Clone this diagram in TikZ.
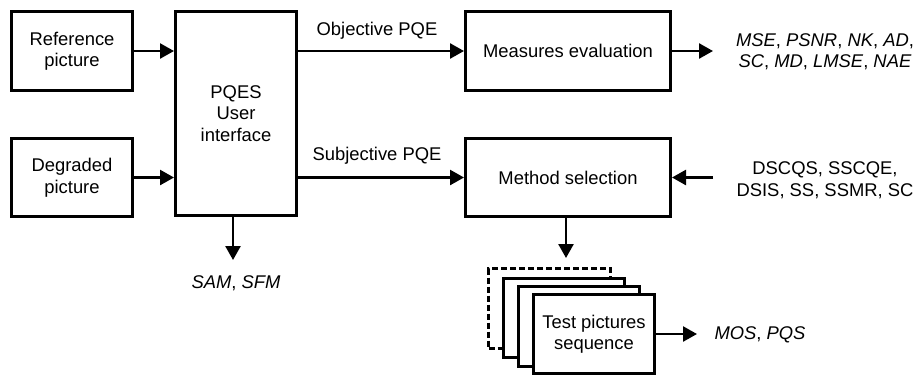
\documentclass[tikz,border=0pt]{standalone}
\usepackage{fontspec}
\setmainfont{Liberation Sans}
\usetikzlibrary{arrows.meta}
\newcommand\figfont{\fontsize{18.4}{21.5}\selectfont}
\begin{document}
\begin{tikzpicture}[x=1pt,y=-1pt,
  blk/.style={draw, line width=3pt, fill=white, inner sep=0pt, align=center, font=\figfont},
  conn/.style={line width=2.5pt, -{Triangle[length=14pt,width=15pt]}},
  lbl/.style={align=center, font=\figfont, inner sep=0pt}]
\useasboundingbox (0,0) rectangle (916,376);
\node[blk, minimum width=121pt, minimum height=79pt] (ref) at (72,51) {Reference\\picture};
\node[blk, minimum width=121pt, minimum height=78pt] (deg) at (72,177.5) {Degraded\\picture};
\node[blk, minimum width=121pt, minimum height=204pt] (pqes) at (236,113.5) {PQES\\User\\interface};
\node[blk, minimum width=205pt, minimum height=79pt] (meas) at (568,51) {Measures evaluation};
\node[blk, minimum width=205pt, minimum height=78pt] (meth) at (568,177.5) {Method selection};
% stacked test pictures
\node[draw, line width=3pt, dash pattern=on 6pt off 3pt, minimum width=122pt, minimum height=80pt, inner sep=0pt] (s1) at (549.5,308.5) {};
\node[blk, minimum width=121pt, minimum height=79pt] (s2) at (564,318) {};
\node[blk, minimum width=121pt, minimum height=80pt] (s3) at (579,326.5) {};
\node[blk, minimum width=121pt, minimum height=79pt] (test) at (594,334) {Test pictures\\sequence};
% labels
\node[lbl] (obj) at (377,31) {Objective PQE};
\node[lbl] (subj) at (377,156) {Subjective PQE};
\node[lbl] (sam) at (236,283) {\textit{SAM}, \textit{SFM}};
\node[lbl] (mse) at (825,51.5) {\textit{MSE}, \textit{PSNR}, \textit{NK}, \textit{AD},\\\textit{SC}, \textit{MD}, \textit{LMSE}, \textit{NAE}};
\node[lbl] (dscqs) at (825,180) {DSCQS, SSCQE,\\DSIS, SS, SSMR, SC};
\node[lbl] (mos) at (760,335) {\textit{MOS}, \textit{PQS}};
\coordinate (mseend) at (713,51);
\coordinate (dsstart) at (713,177.5);
\coordinate (samend) at (233,260);
\coordinate (methdown) at (566,258);
\coordinate (mosend) at (697,334);
% connectors
\draw[conn] (ref.east) -- (ref.east -| pqes.west);
\draw[conn] (deg.east) -- (deg.east -| pqes.west);
\draw[conn] (pqes.east |- meas.west) -- (meas.west);
\draw[conn] (pqes.east |- meth.west) -- (meth.west);
\draw[conn] (meas.east) -- (mseend);
\draw[conn] (dsstart) -- (meth.east);
\draw[conn] (samend |- pqes.south) -- (samend);
\draw[conn] (methdown |- meth.south) -- (methdown);
\draw[conn] (test.east) -- (mosend);
\end{tikzpicture}
\end{document}
